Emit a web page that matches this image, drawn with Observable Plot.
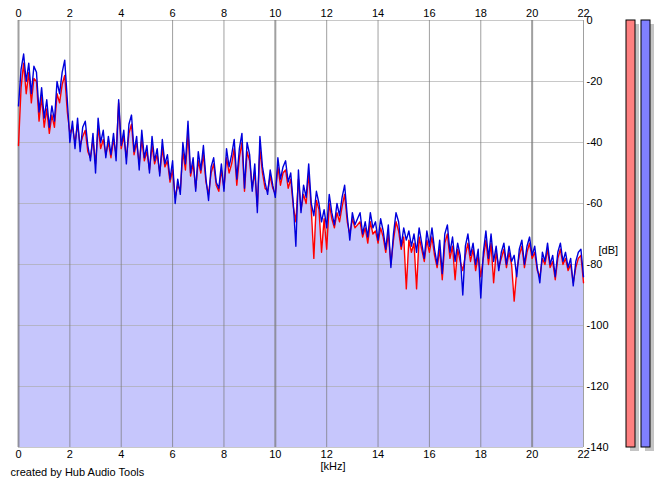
<!DOCTYPE html>
<html><head><meta charset="utf-8">
<script src="https://cdn.jsdelivr.net/npm/d3@7"></script>
<script src="https://cdn.jsdelivr.net/npm/@observablehq/plot@0.6"></script>
<style>
html,body{margin:0;padding:0;background:#fff;}
#chart{position:relative;width:665px;height:487px;overflow:hidden;}
#meters{position:absolute;left:610px;top:0;}
</style>
</head><body><div id="chart"><div id="meters"></div></div>
<script>
// frequency grid (kHz) and tick labels
const xTicks = [0, 2, 4, 6, 8, 10, 12, 14, 16, 18, 20, 22];
const yTicks = [0, -20, -40, -60, -80, -100, -120, -140];
const binKHz = 0.1;

// left channel (red), dB per 0.1 kHz bin
const leftDb = [
-41,-22,-14,-24,-17,-27,-19,-20,-33,-25,-35,-29,-37,-31,-35,-24,-27,-21,-18,-30,
-37,-35,-40,-34,-41,-38,-36,-43,-45,-39,-47,-35,-42,-39,-44,-40,-45,-39,-44,-27,
-42,-38,-45,-37,-34,-44,-40,-47,-39,-46,-43,-49,-41,-47,-44,-50,-42,-48,-46,-53,
-49,-58,-54,-56,-43,-49,-37,-51,-47,-55,-46,-50,-44,-53,-57,-50,-47,-54,-56,-49,
-55,-45,-50,-47,-42,-54,-45,-40,-56,-43,-46,-55,-50,-61,-42,-50,-55,-56,-51,-55,
-57,-48,-54,-50,-49,-55,-52,-61,-66,-52,-62,-57,-60,-50,-62,-78,-59,-62,-76,-65,
-75,-60,-65,-68,-63,-66,-61,-57,-66,-70,-65,-68,-67,-66,-71,-68,-73,-66,-70,-69,
-73,-68,-71,-76,-70,-80,-72,-66,-69,-75,-71,-88,-72,-76,-73,-88,-71,-75,-79,-72,
-76,-71,-77,-81,-75,-85,-73,-70,-78,-74,-85,-75,-79,-82,-77,-73,-79,-75,-82,-77,
-84,-78,-72,-80,-73,-86,-76,-81,-78,-75,-81,-76,-80,-92,-82,-77,-74,-81,-76,-73,
-78,-76,-82,-84,-78,-80,-75,-81,-79,-85,-78,-75,-80,-78,-82,-80,-86,-81,-78,-77,
-86];

// right channel (blue), dB per 0.1 kHz bin
const rightDb = [
-28,-16,-11,-20,-14,-24,-15,-17,-30,-22,-32,-26,-35,-28,-33,-20,-24,-17,-13,-26,
-40,-33,-42,-32,-43,-35,-33,-41,-46,-37,-50,-32,-40,-36,-45,-38,-44,-37,-46,-26,
-41,-36,-47,-34,-31,-43,-38,-49,-36,-45,-41,-50,-38,-46,-42,-51,-39,-47,-44,-52,
-46,-60,-52,-57,-40,-47,-33,-50,-45,-56,-43,-49,-41,-52,-59,-48,-45,-53,-55,-47,
-56,-42,-48,-44,-39,-52,-42,-37,-55,-40,-44,-56,-47,-63,-38,-48,-53,-57,-49,-54,
-58,-45,-52,-48,-46,-53,-50,-60,-74,-49,-63,-54,-58,-47,-60,-64,-56,-60,-66,-62,
-68,-57,-63,-67,-60,-64,-58,-54,-64,-72,-63,-67,-65,-63,-70,-66,-71,-63,-68,-66,
-72,-65,-69,-75,-67,-81,-70,-63,-66,-74,-68,-72,-69,-74,-70,-76,-68,-73,-78,-69,
-74,-68,-75,-80,-72,-83,-70,-67,-76,-71,-79,-73,-77,-90,-74,-70,-77,-73,-80,-75,
-91,-76,-69,-78,-70,-79,-74,-82,-76,-73,-80,-74,-79,-77,-84,-75,-72,-80,-74,-71,
-77,-74,-81,-86,-76,-79,-73,-80,-77,-84,-76,-73,-79,-76,-81,-78,-87,-79,-76,-75,
-84];

// level meters (full scale)
const meterChannels = ["L", "R"];
const meterLevels = [0, 0];
const meterColors = ["#ff8080", "#8080ff"];

const data = rightDb.map((r, i) => ({
  f: +(i * binKHz).toFixed(1),
  L: leftDb[i],
  R: r,
  lo: Math.min(leftDb[i], r)
}));

const font = "'Liberation Sans', Arial, sans-serif";

const plot = Plot.plot({
  width: 665, height: 487,
  marginLeft: 18, marginRight: 82, marginTop: 20, marginBottom: 40,
  style: {fontFamily: font, fontSize: "11px", background: "#fff", color: "#000", overflow: "visible"},
  x: {domain: [0, 22]},
  y: {domain: [-140, 0]},
  marks: [
    Plot.areaY(data, {x: "f", y1: -140, y2: "lo", fill: "#c6c6fc"}),
    Plot.ruleY(yTicks, {stroke: "#aaa", strokeOpacity: 0.65}),
    Plot.ruleX(xTicks, {stroke: "#777", strokeOpacity: 0.7, strokeWidth: d => (d % 10 === 0 && d < 22) ? 2 : 1}),
    Plot.lineY(data, {x: "f", y: "L", stroke: "#ff0000", strokeWidth: 1.4}),
    Plot.lineY(data, {x: "f", y: "R", stroke: "#0000dd", strokeWidth: 1.4}),
    Plot.axisX({anchor: "top", ticks: xTicks, tickSize: 0, tickPadding: 4, label: null, tickFormat: d => String(d)}),
    Plot.axisX({anchor: "bottom", ticks: xTicks, tickSize: 0, tickPadding: 3, label: null, tickFormat: d => String(d)}),
    Plot.axisY({anchor: "right", ticks: yTicks, tickSize: 0, tickPadding: 3, label: null, tickFormat: d => String(d)}),
    Plot.text(["[dB]"], {text: d => d, frameAnchor: "right", dx: 15, dy: 16, textAnchor: "start"}),
    Plot.text(["[kHz]"], {text: d => d, frameAnchor: "bottom", dx: 32, dy: 22}),
    Plot.text(["created by Hub Audio Tools"], {text: d => d, frameAnchor: "bottom-left", dx: -8, dy: 28, textAnchor: "start"})
  ]
});
document.getElementById("chart").insertBefore(plot, document.getElementById("meters"));

const meters = meterChannels.map((ch, i) => ({ch, level: meterLevels[i], color: meterColors[i]}));
const meterPlot = Plot.plot({
  width: 50, height: 487,
  marginLeft: 8.6, marginRight: 3, marginTop: 20, marginBottom: 40,
  style: {background: "transparent", overflow: "visible"},
  x: {type: "band", domain: meterChannels, padding: 0.4, axis: null},
  y: {domain: [-140, 0], axis: null},
  marks: [
    Plot.barY(meters, {x: "ch", y1: -140, y2: "level", fill: "#c4c4c4", dx: 4, dy: 4}),
    Plot.barY(meters, {x: "ch", y1: -140, y2: "level", fill: "color", stroke: "#000", strokeWidth: 1})
  ]
});
document.getElementById("meters").appendChild(meterPlot);
</script>
</body></html>
